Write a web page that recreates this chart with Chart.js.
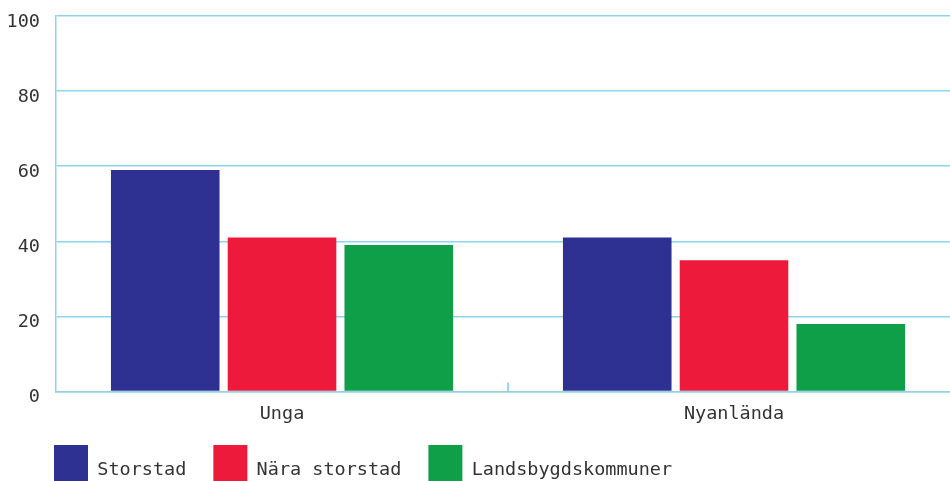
<!DOCTYPE html>
<html>
<head>
<meta charset="utf-8">
<script src="https://cdn.jsdelivr.net/npm/chart.js@4/dist/chart.umd.min.js"></script>
<style>
  html, body { margin: 0; padding: 0; background: #fff; overflow: hidden; }
  #wrap { width: 950px; height: 481px; overflow: hidden; position: relative; }
  #box { position: absolute; left: 0; top: 0; width: 960px; height: 523px; }
</style>
</head>
<body>
<div id="wrap"><div id="box"><canvas id="chart"></canvas></div></div>
<script>
const categories = ["Unga", "Nyanlända"];
const storstad = [59, 41];
const naraStorstad = [41, 35];
const landsbygd = [39, 18];
const seriesNames = ["Storstad", "Nära storstad", "Landsbygdskommuner"];
const seriesColors = ["#2e3192", "#ed1a3c", "#0f9f48"];

const gridColor = "#8dd4ef";
const fontFamily = "'DejaVu Sans Mono', 'Liberation Mono', monospace";
const fontSpec = { family: fontFamily, size: 18.5 };

// short upward tick between the two categories
const midTick = {
  id: "midTick",
  afterDraw(chart) {
    const x = chart.scales.x;
    const ctx = chart.ctx;
    const px = (x.getPixelForValue(0) + x.getPixelForValue(1)) / 2;
    ctx.save();
    ctx.strokeStyle = "#6fcdef";
    ctx.lineWidth = 1.5;
    ctx.beginPath();
    ctx.moveTo(px, x.top - 9);
    ctx.lineTo(px, x.top);
    ctx.stroke();
    ctx.restore();
  }
};

// legend starts under the plot, a bit closer to the axis labels
const legendShift = {
  id: "legendShift",
  afterLayout(chart) {
    chart.legend.left += 27;
    chart.legend.right += 27;
    chart.legend.top -= 18;
    chart.legend.bottom -= 18;
  }
};

const datasets = [storstad, naraStorstad, landsbygd].map((d, i) => ({
  label: seriesNames[i],
  data: d,
  backgroundColor: seriesColors[i],
  borderWidth: 0,
  categoryPercentage: 0.775,
  barPercentage: 0.93
}));

new Chart(document.getElementById("chart"), {
  type: "bar",
  data: { labels: categories, datasets: datasets },
  options: {
    responsive: true,
    maintainAspectRatio: false,
    animation: false,
    layout: { padding: { left: 0, top: 16, right: 0, bottom: 0 } },
    plugins: {
      tooltip: { enabled: false },
      legend: {
        position: "bottom",
        align: "start",
        labels: {
          boxWidth: 34,
          boxHeight: 50,
          padding: 27,
          color: "#333",
          font: fontSpec
        }
      }
    },
    scales: {
      x: {
        grid: { display: false, drawTicks: false },
        border: { display: true, color: "#98cfe4", width: 1.5 },
        ticks: { color: "#333", font: { family: fontFamily, size: 18.5, lineHeight: 0.4 }, padding: 18.5 }
      },
      y: {
        min: 0,
        max: 100,
        ticks: { stepSize: 20, color: "#333", font: fontSpec, padding: 16, labelOffset: 6 },
        grid: { color: gridColor, lineWidth: 1.5, drawTicks: false },
        border: { display: true, color: gridColor, width: 1.5 },
        afterFit(scale) {
          scale.width = 56;
          scale.paddingTop = 0;
          scale.paddingBottom = 0;
        }
      }
    }
  },
  plugins: [midTick, legendShift]
});
</script>
</body>
</html>
